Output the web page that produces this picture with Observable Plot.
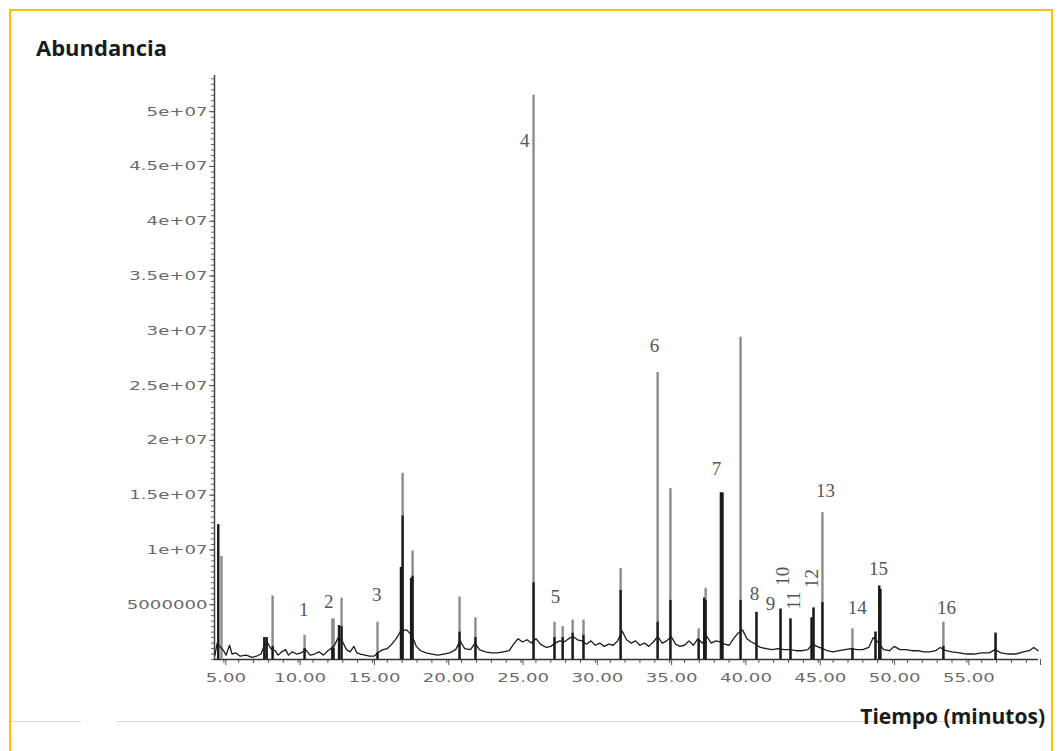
<!DOCTYPE html>
<html>
<head>
<meta charset="utf-8">
<script src="https://cdn.jsdelivr.net/npm/d3@7"></script>
<script src="https://cdn.jsdelivr.net/npm/@observablehq/plot@0.6"></script>
<style>
  body { margin: 0; background: #fff; }
  #wrap { position: relative; width: 1059px; height: 751px; overflow: hidden; }
  #border { position: absolute; left: 9px; top: 9px; width: 1044px; height: 800px; border: 2px solid #FFC000; box-sizing: border-box; }
  #sep1 { position: absolute; left: 11px; top: 721px; width: 70px; height: 1px; background: #d9d9d9; }
  #sep2 { position: absolute; left: 116px; top: 721px; width: 926px; height: 1px; background: #d9d9d9; }
  .ttl { position: absolute; font-family: "Open Sans", sans-serif; font-weight: 700; color: #1b1b1b; white-space: nowrap; }
  #ytitle { left: 36px; top: 36px; font-size: 22px; line-height: 22px; }
  #xtitle { right: 14px; top: 706px; font-size: 21px; line-height: 21px; }
  #chart { position: absolute; left: 0; top: 0; }
</style>
</head>
<body>
<div id="wrap">
  <div id="border"></div>
  <div id="sep1"></div>
  <div id="sep2"></div>
  <div id="chart"></div>
  <div class="ttl" id="ytitle">Abundancia</div>
  <div class="ttl" id="xtitle">Tiempo (minutos)</div>
</div>
<script>
// Baseline trace (time in minutes, abundance in millions)
const baseTime = [4.40,4.55,4.98,5.15,5.38,5.55,5.8,6.1,6.5,6.9,7.2,7.5,7.7,7.95,8.15,8.45,8.65,8.9,9.15,9.35,9.6,9.9,10.2,10.5,10.8,11.1,11.4,11.7,12.0,12.4,12.7,13.0,13.25,13.5,13.75,13.95,14.2,14.5,14.8,15.1,15.45,15.7,16.0,16.3,16.6,16.9,17.3,17.65,17.95,18.25,18.6,19.0,19.4,19.8,20.2,20.6,20.9,21.2,21.6,21.9,22.2,22.6,23.0,23.4,23.8,24.2,24.5,24.8,25.1,25.4,25.7,26.0,26.3,26.7,27.0,27.3,27.6,27.9,28.2,28.5,28.8,29.1,29.4,29.7,30.0,30.3,30.6,30.9,31.2,31.5,31.8,32.1,32.4,32.7,33.0,33.3,33.6,33.9,34.2,34.5,34.8,35.1,35.4,35.7,36.0,36.3,36.6,36.9,37.2,37.5,37.8,38.1,38.4,38.7,39.0,39.3,39.6,39.9,40.2,40.5,40.8,41.1,41.5,41.9,42.3,42.7,43.1,43.5,43.9,44.3,44.6,44.9,45.3,45.6,46.0,46.4,46.8,47.2,47.6,48.0,48.4,48.7,49.0,49.4,49.8,50.1,50.5,50.9,51.3,51.7,52.1,52.5,52.9,53.2,53.6,54.0,54.5,55.0,55.5,56.0,56.5,56.9,57.3,57.8,58.3,58.8,59.2,59.5,59.8];
const baseAbund = [0.4,1.5,0.8,0.4,1.3,0.5,0.6,0.3,0.4,0.2,0.3,0.5,1.2,1.5,1.0,0.8,0.4,0.7,0.9,0.4,0.7,0.5,0.6,0.9,0.4,0.5,0.7,0.4,0.8,1.2,2.0,1.6,0.9,0.7,1.2,0.6,0.5,0.4,0.3,0.3,0.7,0.9,1.0,1.4,1.9,2.6,2.7,2.2,1.2,0.8,0.6,0.5,0.4,0.5,0.6,0.9,1.7,1.0,0.9,1.5,0.9,0.7,0.6,0.6,0.7,0.8,1.4,1.9,1.6,1.8,1.5,1.9,1.4,1.1,1.2,1.5,1.7,1.6,1.9,2.1,1.8,1.7,1.4,1.7,1.3,1.5,1.2,1.4,1.3,1.7,2.6,1.8,1.5,1.7,1.3,1.5,1.2,1.6,2.1,1.5,1.7,2.1,1.4,1.2,1.3,1.7,1.3,1.9,1.5,2.1,1.5,1.7,1.6,1.4,1.3,1.9,2.4,2.7,1.9,1.6,1.4,1.1,1.0,0.9,1.0,0.9,0.9,0.8,0.8,0.9,1.4,1.2,1.0,0.8,0.7,0.8,0.9,1.0,0.9,0.9,1.1,2.0,1.6,0.9,0.8,1.2,0.9,0.9,0.8,0.8,0.7,0.7,0.8,1.1,0.8,0.7,0.6,0.5,0.5,0.6,0.6,0.9,0.6,0.5,0.5,0.7,0.8,1.1,0.8];

// Peaks: retention time, apex abundance (millions), dense core abundance (millions)
const peakTime  = [4.62,4.84,7.72,7.88,8.28,10.43,12.30,12.38,12.75,12.92,15.34,16.92,17.03,17.60,17.70,20.86,21.93,25.84,27.25,27.80,28.47,29.20,31.70,34.19,35.05,36.95,37.32,37.42,38.45,38.55,39.77,40.84,42.46,43.13,44.55,44.68,45.28,47.30,48.85,49.10,49.18,53.42,56.93];
const peakAbund = [12.3,9.4,2.0,2.0,5.8,2.2,3.7,3.7,3.1,5.6,3.4,8.4,17.0,7.4,9.9,5.7,3.8,51.5,3.4,3.0,3.6,3.6,8.3,26.2,15.6,2.8,5.6,6.5,15.2,15.2,29.4,4.3,4.6,3.7,3.8,4.7,13.4,2.8,2.5,6.7,6.4,3.4,2.4];
const peakCore  = [12.3,0,2.0,2.0,1.2,1.0,1.0,1.0,3.1,3.0,0.6,8.4,13.1,7.4,7.6,2.5,2.0,7.0,2.0,2.0,2.4,2.2,6.3,3.4,5.4,1.8,5.6,5.4,15.2,15.2,5.4,4.3,4.6,3.7,3.8,4.7,5.2,1.0,2.5,6.7,6.4,1.2,2.4];

// Peak number labels
const labelText  = ["1","2","3","4","5","6","7","8","9","13","14","15","16"];
const labelTime  = [10.37,12.05,15.28,25.24,27.32,33.98,38.15,40.71,41.78,45.48,47.63,49.05,53.63];
const labelAbund = [4.5,5.3,5.9,47.3,5.7,28.6,17.4,6.0,5.1,15.4,4.7,8.3,4.7];
const rotLabelText  = ["10","11","12"];
const rotLabelTime  = [42.65,43.33,44.60];
const rotLabelAbund = [7.6,5.4,7.4];

// Axes
const xDomain = [4.37, 59.82];
const yDomain = [0, 53.3];
const xMajor = [5,10,15,20,25,30,35,40,45,50,55];
const xMajorLabels = ["5.00","10.00","15.00","20.00","25.00","30.00","35.00","40.00","45.00","50.00","55.00"];
const xMinor = d3.range(5, 60, 1);
const yMajor = [5,10,15,20,25,30,35,40,45,50];
const yMajorLabels = ["5000000","1e+07","1.5e+07","2e+07","2.5e+07","3e+07","3.5e+07","4e+07","4.5e+07","5e+07"];
const yMinor = d3.range(0, 53.01, 0.5);

const base = baseTime.map((t, i) => ({t, v: baseAbund[i]}));
const peaks = peakTime.map((t, i) => ({t, v: peakAbund[i], c: peakCore[i]}));
const labels = labelText.map((s, i) => ({s, t: labelTime[i], v: labelAbund[i]}));
const rotLabels = rotLabelText.map((s, i) => ({s, t: rotLabelTime[i], v: rotLabelAbund[i]}));

const chart = Plot.plot({
  width: 1059, height: 751,
  marginLeft: 214, marginRight: 21, marginTop: 75, marginBottom: 92,
  x: {domain: xDomain},
  y: {domain: yDomain},
  style: {fontFamily: "DejaVu Sans", background: "transparent", overflow: "visible"},
  marks: [
    Plot.axisX({ticks: xMinor, tickSize: 4, tickFormat: () => "", stroke: "#555", label: null}),
    Plot.axisX({ticks: [...xMajor, xDomain[1]], tickSize: 6, tickPadding: 8, dx: 2,
      tickFormat: d => { const k = xMajor.indexOf(d); return k < 0 ? "" : xMajorLabels[k]; },
      stroke: "#555", fill: "#6a6a6a", fontSize: 12.5, label: null, ariaLabel: "xlab"}),
    Plot.axisY({ticks: yMinor, tickSize: 3, tickFormat: () => "", stroke: "#666", label: null}),
    Plot.axisY({ticks: yMajor, tickSize: 5, tickPadding: 2,
      tickFormat: d => yMajorLabels[yMajor.indexOf(d)],
      stroke: "#555", fill: "#6a6a6a", fontSize: 12.5, label: null, ariaLabel: "ylab"}),
    Plot.ruleY([0], {stroke: "#333", strokeWidth: 1.5}),
    Plot.ruleX([xDomain[0]], {y1: yDomain[0], y2: yDomain[1], stroke: "#444", strokeWidth: 1.5}),
    Plot.ruleX(peaks, {x: "t", y1: 0, y2: "v", stroke: "#8c8c8c", strokeWidth: 2.4}),
    Plot.ruleX(peaks.filter(d => d.c > 0), {x: "t", y1: 0, y2: "c", stroke: "#1a1a1a", strokeWidth: 2.3}),
    Plot.line(base, {x: "t", y: "v", stroke: "#1a1a1a", strokeWidth: 1.3}),
    Plot.text(labels, {x: "t", y: "v", text: "s", fontFamily: "Liberation Serif", fontSize: 19, fill: "#555"}),
    Plot.text(rotLabels, {x: "t", y: "v", text: "s", rotate: -90, fontFamily: "Liberation Serif", fontSize: 19, fill: "#555"})
  ]
});
document.getElementById("chart").appendChild(chart);
// Stretch tick-label glyphs horizontally, like the scanned original
d3.select(chart).selectAll("text").each(function () {
  const g = this.closest("g[aria-label]");
  if (!g) return;
  const a = g.getAttribute("aria-label") || "";
  if (!/lab|tick label/.test(a)) return;
  const w = this.getComputedTextLength();
  if (w > 0) {
    this.setAttribute("textLength", (w * 1.45).toFixed(1));
    this.setAttribute("lengthAdjust", "spacingAndGlyphs");
  }
});
</script>
</body>
</html>
